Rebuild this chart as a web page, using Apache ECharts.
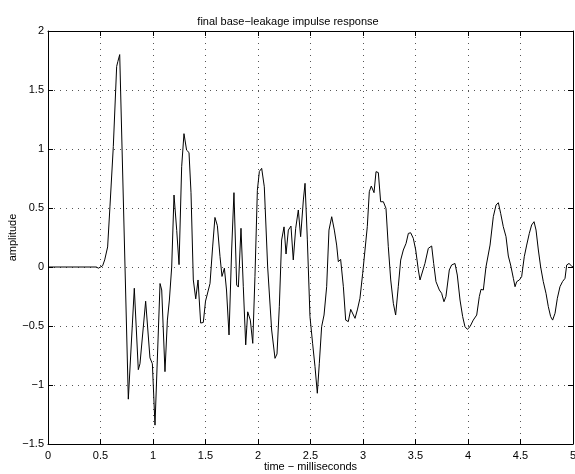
<!DOCTYPE html>
<html>
<head>
<meta charset="utf-8">
<script src="https://cdn.jsdelivr.net/npm/echarts@6/dist/echarts.min.js"></script>
<style>
  html, body { margin: 0; padding: 0; background: #fff; }
</style>
</head>
<body>
<div id="main" style="width: 575px; height: 474px"></div>
<script>
// time in milliseconds
const times = [
  0, 0.46, 0.48, 0.495, 0.52, 0.54, 0.568, 0.59, 0.622, 0.654, 0.665, 0.683,
  0.765, 0.822, 0.838, 0.86, 0.876, 0.93, 0.971, 0.994, 1.019, 1.067, 1.083,
  1.114, 1.137, 1.156, 1.178, 1.2, 1.226, 1.248, 1.273, 1.295, 1.32, 1.343,
  1.362, 1.384, 1.407, 1.429, 1.454, 1.479, 1.5, 1.543, 1.568, 1.59, 1.613,
  1.638, 1.657, 1.68, 1.7, 1.724, 1.749, 1.771, 1.797, 1.813, 1.838, 1.86,
  1.883, 1.902, 1.927, 1.95, 1.971, 1.994, 2.013, 2.035, 2.06, 2.092, 2.13,
  2.162, 2.181, 2.203, 2.225, 2.248, 2.267, 2.289, 2.314, 2.336, 2.359, 2.384,
  2.406, 2.432, 2.448, 2.47, 2.495, 2.52, 2.543, 2.565, 2.584, 2.606, 2.629,
  2.654, 2.676, 2.702, 2.727, 2.749, 2.765, 2.787, 2.813, 2.835, 2.86, 2.883,
  2.902, 2.924, 2.946, 2.971, 2.997, 3.019, 3.041, 3.06, 3.079, 3.105, 3.124,
  3.146, 3.168, 3.194, 3.219, 3.241, 3.264, 3.289, 3.311, 3.336, 3.359, 3.384,
  3.41, 3.432, 3.454, 3.479, 3.502, 3.527, 3.543, 3.559, 3.59, 3.622, 3.654,
  3.673, 3.695, 3.727, 3.749, 3.771, 3.79, 3.822, 3.844, 3.876, 3.898, 3.924,
  3.949, 3.971, 3.994, 4.019, 4.05, 4.083, 4.108, 4.124, 4.146, 4.171, 4.21,
  4.241, 4.267, 4.289, 4.311, 4.336, 4.362, 4.384, 4.406, 4.432, 4.448, 4.464,
  4.489, 4.511, 4.536, 4.559, 4.584, 4.606, 4.629, 4.648, 4.67, 4.692, 4.717,
  4.743, 4.765, 4.787, 4.806, 4.829, 4.851, 4.876, 4.9, 4.924, 4.94, 4.962,
  4.987, 5.0
];
// amplitude at each time
const amps = [
  0, 0, -0.01, -0.02, 0.01, 0.06, 0.17, 0.51, 1.02, 1.70, 1.74, 1.80,
  -1.12, -0.18, -0.18, -0.87, -0.82, -0.29, -0.77, -0.82, -1.34, -0.14, -0.195,
  -0.887, -0.45, -0.28, 0.0, 0.61, 0.31, 0.02, 0.85, 1.13, 0.99, 0.97,
  0.63, -0.11, -0.27, -0.11, -0.475, -0.47, -0.29, -0.14, 0.17, 0.42, 0.35,
  0.09, -0.08, -0.01, -0.195, -0.576, 0.144, 0.63, -0.153, -0.17, 0.328, -0.167,
  -0.66, -0.38, -0.45, -0.647, -0.08, 0.65, 0.81, 0.836, 0.68, 0.0, -0.534,
  -0.774, -0.737, -0.336, 0.229, 0.34, 0.11, 0.313, 0.347, 0.06, 0.328, 0.483,
  0.257, 0.568, 0.709, 0.23, -0.42, -0.647, -0.845, -1.07, -0.816, -0.506, -0.407,
  -0.167, 0.313, 0.426, 0.313, 0.186, 0.045, 0.065, -0.167, -0.45, -0.463, -0.359,
  -0.359, -0.435, -0.364, -0.265, -0.054, 0.144, 0.342, 0.638, 0.686, 0.63, 0.808,
  0.8, 0.553, 0.553, 0.497, 0.172, -0.11, -0.308, -0.407, -0.167, 0.059, 0.144,
  0.2, 0.285, 0.29, 0.243, 0.144, -0.025, -0.11, -0.11, 0.03, 0.158, 0.178,
  0.03, -0.124, -0.195, -0.223, -0.294, -0.25, -0.025, 0.017, 0.03, -0.068, -0.28,
  -0.42, -0.506, -0.528, -0.506, -0.45, -0.407, -0.25, -0.189, -0.195, 0.0, 0.186,
  0.426, 0.525, 0.545, 0.455, 0.342, 0.257, 0.093, 0.017, -0.096, -0.167, -0.124,
  -0.11, -0.082, 0.087, 0.186, 0.285, 0.356, 0.384, 0.313, 0.144, 0.0, -0.124,
  -0.223, -0.336, -0.42, -0.45, -0.392, -0.265, -0.167, -0.124, -0.096, 0.017, 0.03,
  0.008, 0.0
];

const font = "Liberation Sans, Arial, Helvetica, sans-serif";
const minus = (v) => String(v).replace("-", "\u2212");

const tick = { show: true, inside: true, length: 5, lineStyle: { color: "#000", width: 1 } };
const line = { show: true, onZero: false, lineStyle: { color: "#000", width: 1 } };
const dots = { show: true, lineStyle: { color: "#555", width: 1, type: [1, 5] } };

let myChart = echarts.init(document.getElementById("main"), null, { renderer: "canvas" });
myChart.setOption({
  backgroundColor: "#fff",
  animation: false,
  title: {
    text: "final base\u2212leakage impulse response",
    left: 283,
    textAlign: "center",
    top: 11,
    textStyle: { fontFamily: font, fontSize: 11, fontWeight: "normal", color: "#000" },
  },
  grid: { left: 48, right: 2, top: 31, bottom: 30, containLabel: false, outerBoundsMode: "none" },
  xAxis: [
    {
      type: "value",
      min: 0,
      max: 5,
      interval: 0.5,
      position: "bottom",
      axisLine: line,
      axisTick: tick,
      splitLine: dots,
      axisLabel: {
        color: "#000", fontFamily: font, fontSize: 11, margin: 6,
        showMinLabel: true, showMaxLabel: true, formatter: minus,
      },
      name: "time \u2212 milliseconds",
      nameLocation: "middle",
      nameGap: 17,
      nameMoveOverlap: false,
      nameTextStyle: { color: "#000", fontFamily: font, fontSize: 11 },
    },
    {
      type: "value",
      min: 0,
      max: 5,
      interval: 0.5,
      position: "top",
      axisLine: line,
      axisTick: tick,
      splitLine: { show: false },
      axisLabel: { show: false },
    },
  ],
  yAxis: [
    {
      type: "value",
      min: -1.5,
      max: 2,
      interval: 0.5,
      position: "left",
      axisLine: line,
      axisTick: tick,
      splitLine: dots,
      axisLabel: {
        color: "#000", fontFamily: font, fontSize: 11, margin: 4,
        showMinLabel: true, showMaxLabel: true, formatter: minus,
      },
      name: "amplitude",
      nameLocation: "middle",
      nameGap: 30,
      nameMoveOverlap: false,
      nameTextStyle: { color: "#000", fontFamily: font, fontSize: 11 },
    },
    {
      type: "value",
      min: -1.5,
      max: 2,
      interval: 0.5,
      position: "right",
      axisLine: line,
      axisTick: tick,
      splitLine: { show: false },
      axisLabel: { show: false },
    },
  ],
  series: [
    {
      name: "impulse response",
      type: "line",
      xAxisIndex: 0,
      yAxisIndex: 0,
      data: times.map((t, i) => [t, amps[i]]),
      showSymbol: false,
      symbol: "none",
      lineStyle: { color: "#000", width: 1 },
    },
  ],
});
</script>
</body>
</html>
